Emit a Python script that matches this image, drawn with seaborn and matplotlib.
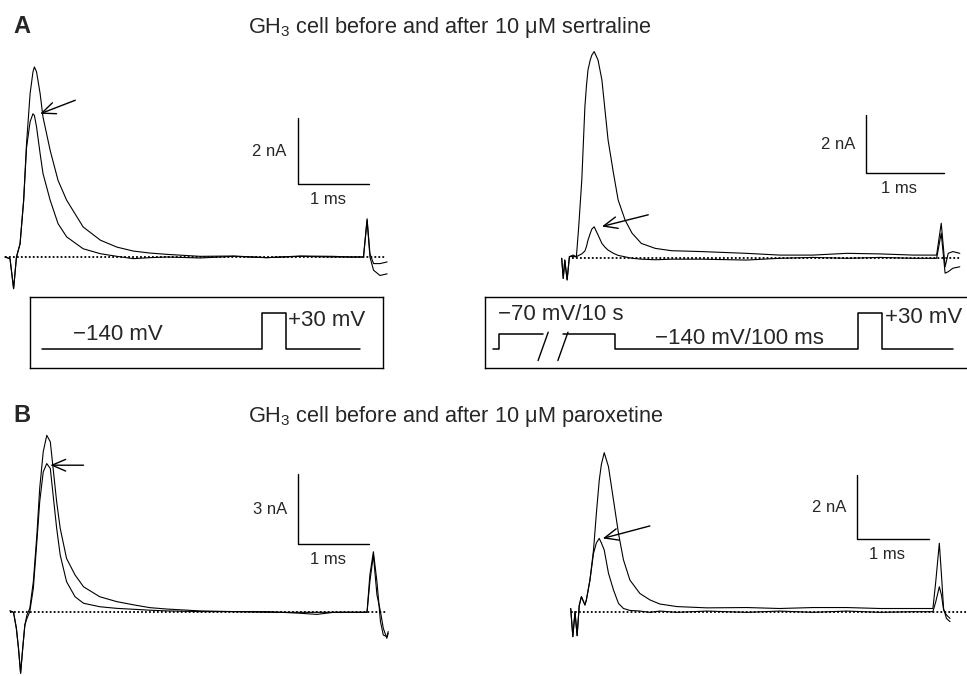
import matplotlib
matplotlib.use("Agg")
import matplotlib.pyplot as plt
import seaborn as sns

FIG_W, FIG_H = 967, 676

# ---- traces: time (ms) and current (nA) ----
# A, left: sertraline, -140 mV holding
a1_t = [0.00, 0.07, 0.12, 0.16, 0.21, 0.26, 0.30, 0.35, 0.39, 0.41, 0.44, 0.49, 0.53, 0.63,
        0.74, 0.86, 1.09, 1.33, 1.56, 1.79, 2.02, 2.26, 2.72, 3.19, 3.65, 4.12, 4.58, 4.81,
        5.00, 5.05, 5.09, 5.14, 5.23, 5.33]
a1_ctrl = [0.00, -0.05, -0.96, 0.00, 0.40, 1.72, 3.43, 4.95, 5.61, 5.76, 5.61, 4.95, 4.24, 3.23,
           2.32, 1.72, 0.91, 0.51, 0.30, 0.18, 0.12, 0.08, 0.02, 0.03, -0.02, 0.03, 0.02, 0.00,
           0.00, 1.16, 0.10, -0.20, -0.20, -0.15]
a1_drug = [0.00, -0.05, -0.96, 0.00, 0.40, 1.70, 3.30, 4.10, 4.34, 4.29, 3.94, 3.13, 2.53, 1.72,
           1.01, 0.61, 0.25, 0.10, 0.02, -0.05, -0.02, 0.00, -0.03, 0.02, -0.02, 0.02, 0.00, 0.00,
           0.00, 1.11, 0.00, -0.40, -0.56, -0.51]

# A, right: sertraline, after -70 mV conditioning
a2_t = [0.00, 0.02, 0.04, 0.07, 0.10, 0.15, 0.19, 0.22, 0.26, 0.30, 0.32, 0.34, 0.37, 0.39,
        0.42, 0.47, 0.52, 0.56, 0.60, 0.67, 0.73, 0.82, 0.91, 1.03, 1.21, 1.42, 1.81, 2.39,
        2.82, 3.25, 3.69, 4.12, 4.55, 4.85, 4.91, 4.96, 5.00, 5.06, 5.15]
a2_ctrl = [0.00, -0.69, -0.06, -0.74, 0.06, 0.11, 0.05, 1.08, 2.68, 5.19, 5.90, 6.45, 6.80, 6.96,
           7.08, 6.79, 6.11, 5.08, 4.05, 2.91, 2.00, 1.31, 0.86, 0.51, 0.34, 0.26, 0.23, 0.17,
           0.11, 0.11, 0.17, 0.15, 0.11, 0.11, 1.20, -0.29, 0.17, 0.23, 0.17]
a2_drug = [0.00, -0.69, -0.06, -0.74, 0.06, 0.06, 0.05, 0.10, 0.15, 0.25, 0.40, 0.62, 0.86, 1.00,
           1.08, 0.80, 0.51, 0.38, 0.28, 0.17, 0.10, 0.05, 0.00, -0.03, -0.05, -0.03, -0.03, -0.06,
           0.00, 0.03, 0.00, 0.03, 0.00, 0.00, 0.86, -0.51, -0.46, -0.34, -0.29]

# B, left: paroxetine, -140 mV holding
b1_t = [0.00, 0.05, 0.09, 0.12, 0.15, 0.18, 0.21, 0.24, 0.28, 0.33, 0.38, 0.42, 0.47, 0.52,
        0.57, 0.61, 0.66, 0.71, 0.80, 0.92, 1.04, 1.27, 1.51, 1.75, 1.98, 2.22, 2.69, 3.16,
        3.63, 4.10, 4.34, 4.58, 5.05, 5.09, 5.14, 5.19, 5.24, 5.28, 5.33, 5.35]
b1_ctrl = [0.06, 0.00, -0.69, -1.55, -2.63, -1.55, -0.55, -0.11, 0.17, 1.32, 3.33, 5.34, 6.92, 7.63,
           7.35, 6.20, 4.76, 3.62, 2.32, 1.61, 1.10, 0.67, 0.46, 0.32, 0.20, 0.14, 0.06, 0.03,
           0.03, -0.04, -0.09, 0.00, 0.00, 1.61, 2.61, 1.32, -0.40, -0.98, -1.05, -0.83]
b1_drug = [0.06, 0.00, -0.69, -1.55, -2.63, -1.55, -0.55, -0.26, 0.03, 1.03, 3.04, 4.76, 6.05, 6.41,
           6.20, 5.05, 3.62, 2.47, 1.32, 0.67, 0.39, 0.24, 0.17, 0.13, 0.09, 0.06, 0.03, 0.03,
           0.00, 0.00, 0.00, 0.00, 0.00, 1.32, 2.47, 0.75, 0.03, -0.69, -1.12, -0.90]

# B, right: paroxetine, after -70 mV conditioning
b2_t = [0.00, 0.03, 0.06, 0.09, 0.12, 0.15, 0.20, 0.22, 0.27, 0.32, 0.36, 0.40, 0.43, 0.47,
        0.53, 0.60, 0.67, 0.74, 0.83, 0.97, 1.11, 1.25, 1.49, 1.91, 2.47, 2.93, 3.40, 3.87,
        4.34, 4.80, 5.08, 5.12, 5.17, 5.20, 5.23, 5.27, 5.32]
b2_ctrl = [0.10, -0.78, 0.00, -0.75, 0.20, 0.47, 0.21, 0.37, 0.99, 1.93, 3.07, 4.10, 4.60, 4.97,
           4.53, 3.49, 2.45, 1.62, 0.99, 0.57, 0.37, 0.24, 0.16, 0.12, 0.13, 0.10, 0.13, 0.13,
           0.10, 0.10, 0.10, 0.94, 2.14, 1.15, 0.10, -0.21, -0.31]
b2_drug = [0.10, -0.78, 0.00, -0.75, 0.20, 0.47, 0.21, 0.37, 0.99, 1.82, 2.15, 2.29, 2.15, 1.93,
           1.20, 0.68, 0.26, 0.10, 0.04, 0.02, -0.02, 0.02, -0.02, 0.02, -0.02, 0.02, -0.02, 0.02,
           -0.02, 0.00, 0.00, 0.31, 0.78, 0.52, 0.05, -0.10, -0.21]

# ---- voltage protocols (schematic time units 0-100, mV) ----
proto1_t = [0, 69.2, 69.2, 76.7, 76.7, 100]
proto1_v = [-140, -140, 30, 30, -140, -140]
proto2a_t = [0, 1.3, 1.3, 10.9]
proto2a_v = [-140, -140, -70, -70]
proto2b_t = [15.2, 26.5, 26.5, 79.3, 79.3, 84.6, 84.6, 100]
proto2b_v = [-70, -70, -140, -140, 30, 30, -140, -140]
break_t = [[9.8, 12.0], [14.1, 16.3]]
break_v = [-195, -60]

TITLES = ["GH$_3$ cell before and after 10 μM sertraline",
          "GH$_3$ cell before and after 10 μM paroxetine"]

sns.set_style("white")
plt.rcParams["font.family"] = ["Liberation Sans", "DejaVu Sans"]
plt.rcParams["mathtext.fontset"] = "custom"
plt.rcParams["mathtext.rm"] = "Liberation Sans"
plt.rcParams["mathtext.it"] = "Liberation Sans:italic"
plt.rcParams["mathtext.default"] = "regular"

fig = plt.figure(figsize=(FIG_W / 100, FIG_H / 100), dpi=100)


def px_axes(box, x0, y0, px_x, px_y, v0=0.0):
    """Axes over a pixel box (top-left origin); pixel (x0, y0) is data (0, v0)."""
    x1, y1, x2, y2 = box
    ax = fig.add_axes([x1 / FIG_W, 1 - y2 / FIG_H, (x2 - x1) / FIG_W, (y2 - y1) / FIG_H])
    ax.set_xlim((x1 - x0) / px_x, (x2 - x0) / px_x)
    ax.set_ylim(v0 + (y0 - y2) / px_y, v0 + (y0 - y1) / px_y)
    ax.patch.set_alpha(0)
    return ax


def trace_panel(box, x0, y0, px_ms, px_na, t, ctrl, drug, base_end, bar, bar_na, arrow):
    ax = px_axes(box, x0, y0, px_ms, px_na)
    ax.axis("off")
    ax.plot([base_end[0], base_end[1]], [0, 0], color="black", ls=(0, (1, 1.2)), lw=1.3)
    for y in (ctrl, drug):
        sns.lineplot(x=t, y=y, ax=ax, color="black", lw=0.8, estimator=None,
                     sort=False, legend=False)
    bt, bi = bar
    ax.plot([bt, bt, bt + 1], [bi + bar_na, bi, bi], color="black", lw=1.0)
    ax.annotate(f"{bar_na} nA", (bt, bi + bar_na / 2), xytext=(-8, 0),
                textcoords="offset points", ha="right", va="center", fontsize=12)
    ax.annotate("1 ms", (bt + 0.42, bi), xytext=(0, -11), textcoords="offset points",
                ha="center", va="center", fontsize=12)
    ax.annotate("", xy=arrow[1], xytext=arrow[0],
                arrowprops=dict(arrowstyle="->,head_length=0.7,head_width=0.3",
                                color="black", lw=1.0, shrinkA=0, shrinkB=0,
                                mutation_scale=14))
    return ax


trace_panel((0, 40, 400, 296), 5, 257, 71.7, 33.0, a1_t, a1_ctrl, a1_drug,
            (0, 5.3), (4.08, 2.2), 2, ((0.98, 4.75), (0.49, 4.34)))
trace_panel((540, 40, 967, 296), 561.7, 258.3, 77.3, 29.2, a2_t, a2_ctrl, a2_drug,
            (0.13, 5.15), (3.94, 2.91), 2, ((1.12, 1.49), (0.52, 1.09)))
trace_panel((0, 425, 400, 676), 10, 612.3, 70.7, 23.2, b1_t, b1_ctrl, b1_drug,
            (0, 5.33), (4.08, 2.94), 3, ((1.04, 6.34), (0.57, 6.34)))
trace_panel((540, 425, 967, 676), 570.7, 611.7, 71.3, 32.0, b2_t, b2_ctrl, b2_drug,
            (0, 5.55), (4.02, 2.27), 2, ((1.11, 2.68), (0.45, 2.29)))


def proto_box(box, x0, px_unit):
    # -140 mV sits on pixel row 349
    ax = px_axes(box, x0, 349, px_unit, 0.21, v0=-140)
    ax.set_xticks([])
    ax.set_yticks([])
    for s in ax.spines.values():
        s.set_color("black")
        s.set_linewidth(1.0)
    return ax


PFONT = 16
ax = proto_box((30, 297, 383, 368), 42, 3.18)
sns.lineplot(x=proto1_t, y=proto1_v, ax=ax, color="black", lw=1.1, estimator=None,
             sort=False, legend=False)
ax.text(9.7, -73, "−140 mV", ha="left", va="center", fontsize=PFONT)
ax.text(77.4, -2, "+30 mV", ha="left", va="center", fontsize=PFONT)

ax = proto_box((485, 297, 1010, 368), 493, 4.6)
for tt, vv in ((proto2a_t, proto2a_v), (proto2b_t, proto2b_v)):
    sns.lineplot(x=tt, y=vv, ax=ax, color="black", lw=1.1, estimator=None,
                 sort=False, legend=False)
for bt in break_t:
    ax.plot(bt, break_v, color="black", lw=1.0)
ax.text(1.1, 22, "−70 mV/10 s", ha="left", va="center", fontsize=PFONT)
ax.text(35.2, -88, "−140 mV/100 ms", ha="left", va="center", fontsize=PFONT)
ax.text(85.2, 8, "+30 mV", ha="left", va="center", fontsize=PFONT)

# panel letters and titles
fig.text(13 / FIG_W, 1 - 33 / FIG_H, "A", fontsize=17, fontweight="bold", va="baseline")
fig.text(248 / FIG_W, 1 - 33 / FIG_H, TITLES[0], fontsize=15.7, va="baseline")
fig.text(13 / FIG_W, 1 - 422 / FIG_H, "B", fontsize=17, fontweight="bold", va="baseline")
fig.text(248 / FIG_W, 1 - 422 / FIG_H, TITLES[1], fontsize=15.7, va="baseline")

fig.savefig("out.png", dpi=100, facecolor="white")
